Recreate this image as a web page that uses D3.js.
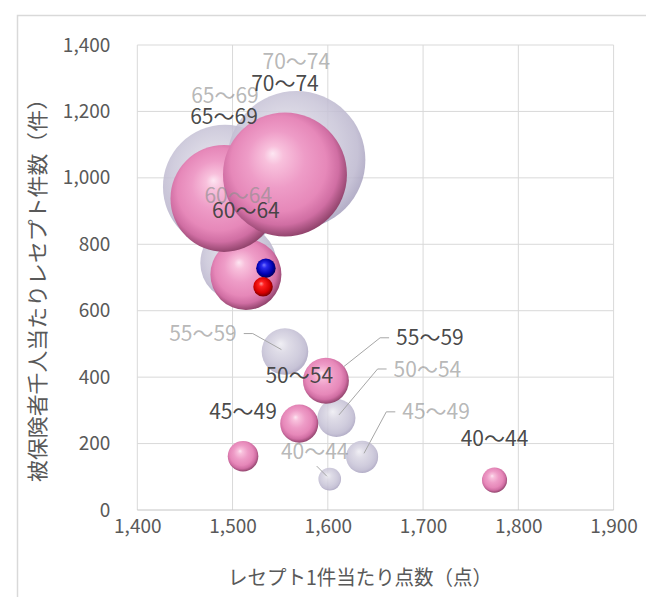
<!DOCTYPE html>
<html><head><meta charset="utf-8">
<script src="https://cdn.jsdelivr.net/npm/d3@7"></script>
<style>html,body{margin:0;padding:0;background:#fff;} svg{display:block;}</style>
</head><body><svg id="c" width="646" height="597"></svg>
<script>
// ---- data ----
const ageGroups  = ["40～44","45～49","50～54","55～59","60～64","65～69","70～74"];
// series A (lavender, translucent)
const grayPoints = [1602, 1636, 1609, 1555, 1506, 1492, 1567];
const grayCounts = [93, 160, 277, 477, 744, 973, 1054];
const graySizes  = [2.7, 5.4, 7.6, 11.4, 30.3, 80.7, 100];
// series B (pink)
const pinkPoints = [1775, 1511, 1570, 1598, 1514, 1491, 1555];
const pinkCounts = [90, 162, 260, 389, 709, 938, 1010];
const pinkSizes  = [3.3, 4.9, 7.6, 11.1, 26.5, 60.1, 80.7];
// averages (blue, red)
const avgNames  = ["blue", "red"];
const avgPoints = [1535, 1532];
const avgCounts = [728, 672];
const avgSizes  = [1.8, 1.8];
const xTicks = [1400, 1500, 1600, 1700, 1800, 1900];
const yTicks = [0, 200, 400, 600, 800, 1000, 1200, 1400];
const xTitle = "レセプト1件当たり点数（点）";
const yTitle = "被保険者千人当たりレセプト件数（件）";

// ---- label placement (pixel offsets for moved labels) ----
const grayLabelMoves = {0: [-15, -28], 1: [74, -45], 2: [91, -49], 3: [-82, -18]};
const pinkLabelMoves = {3: [104, -43]};

const svg = d3.select("#c");
const FONT = "'Noto Sans CJK JP','Noto Sans',sans-serif";
const x = d3.scaleLinear().domain([1400, 1900]).range([137.3, 613.6]);
const y = d3.scaleLinear().domain([0, 1400]).range([510, 45]);
const rScale = d3.scaleSqrt().domain([0, 100]).range([0, 69]);

// gradients
const defs = svg.append("defs");
function grad(id, stops) {
  const g = defs.append("radialGradient").attr("id", id)
    .attr("cx", "47%").attr("cy", "45%").attr("r", "55%")
    .attr("fx", "40%").attr("fy", "33%");
  stops.forEach(s => g.append("stop").attr("offset", s[0]).attr("stop-color", s[1]));
}
grad("gPink", [["0%", "#fde6f2"], ["14%", "#f8c0dc"], ["42%", "#ee9cc7"], ["70%", "#e688b9"], ["86%", "#d06ea3"], ["100%", "#93456e"]]);
grad("gGray", [["0%", "#eeedf3"], ["30%", "#d9d6e3"], ["68%", "#c9c5d8"], ["88%", "#bdb8cf"], ["100%", "#a8a2bf"]]);
grad("gBlue", [["0%", "#7a7aff"], ["25%", "#2a2aee"], ["72%", "#0000b0"], ["100%", "#000058"]]);
grad("gRed", [["0%", "#ff9a9a"], ["25%", "#ff2020"], ["72%", "#d80000"], ["100%", "#7a0000"]]);

// frame
svg.append("rect").attr("x", 17.5).attr("y", 15.5).attr("width", 700).attr("height", 700)
  .attr("fill", "none").attr("stroke", "#d9d9d9").attr("stroke-width", 1.5);

// grid
const grid = svg.append("g");
grid.selectAll("line.h").data(yTicks.filter(t => t > 0)).enter().append("line")
  .attr("x1", x(1400)).attr("x2", x(1900)).attr("y1", d => y(d)).attr("y2", d => y(d))
  .attr("stroke", "#d9d9d9").attr("stroke-width", 1);
grid.selectAll("line.v").data(xTicks).enter().append("line")
  .attr("x1", d => x(d)).attr("x2", d => x(d)).attr("y1", y(1400)).attr("y2", y(0))
  .attr("stroke", "#d9d9d9").attr("stroke-width", 1);
svg.append("line").attr("x1", x(1400)).attr("x2", x(1900)).attr("y1", y(0)).attr("y2", y(0))
  .attr("stroke", "#c4c4c4").attr("stroke-width", 1);

// axes tick labels via d3 axes
const fmt = d3.format(",");
const yAxis = svg.append("g").attr("transform", `translate(${x(1400)},0)`)
  .call(d3.axisLeft(y).tickValues(yTicks).tickFormat(fmt).tickSize(0).tickPadding(27));
const xAxis = svg.append("g").attr("transform", `translate(0,${y(0)})`)
  .call(d3.axisBottom(x).tickValues(xTicks).tickFormat(fmt).tickSize(0).tickPadding(6));
[yAxis, xAxis].forEach(a => {
  a.select(".domain").remove();
  a.selectAll("text").attr("font-family", FONT).attr("font-size", 19).attr("fill", "#595959");
});
xAxis.selectAll("text").attr("dy", "0.9em");

// titles
svg.append("text").attr("x", 360).attr("y", 585).attr("text-anchor", "middle")
  .attr("font-family", FONT).attr("font-size", 20).attr("fill", "#595959")
  .attr("textLength", 264).attr("lengthAdjust", "spacingAndGlyphs").text(xTitle);
svg.append("text").attr("transform", "translate(45,285) rotate(-90)").attr("text-anchor", "middle")
  .attr("font-family", FONT).attr("font-size", 21).attr("fill", "#595959")
  .attr("textLength", 394).attr("lengthAdjust", "spacingAndGlyphs").text(yTitle);

// data
const gray = ageGroups.map((g, i) => ({g, i, px: grayPoints[i], cnt: grayCounts[i], s: graySizes[i]}));
const pink = ageGroups.map((g, i) => ({g, i, px: pinkPoints[i], cnt: pinkCounts[i], s: pinkSizes[i]}));
const avgs = avgNames.map((n, i) => ({n, px: avgPoints[i], cnt: avgCounts[i], s: avgSizes[i]}));

svg.append("g").selectAll("circle").data(gray).enter().append("circle")
  .attr("cx", d => x(d.px)).attr("cy", d => y(d.cnt)).attr("r", d => rScale(d.s))
  .attr("fill", "url(#gGray)").attr("fill-opacity", 0.86);
svg.append("g").selectAll("circle").data(pink).enter().append("circle")
  .attr("cx", d => x(d.px)).attr("cy", d => y(d.cnt)).attr("r", d => rScale(d.s))
  .attr("fill", "url(#gPink)");
svg.append("g").selectAll("circle").data(avgs).enter().append("circle")
  .attr("cx", d => x(d.px)).attr("cy", d => y(d.cnt)).attr("r", d => rScale(d.s) + 0.5)
  .attr("fill", d => d.n === "blue" ? "url(#gBlue)" : "url(#gRed)");

// labels
const leaderG = svg.append("g");
const labelG = svg.append("g");
function drawLabels(data, moves, color, opacity, toEdge) {
  data.forEach(d => {
    const cx = x(d.px), cy = y(d.cnt), r = rScale(d.s);
    let lx = cx, ly = cy - r - 29;
    const mv = moves[d.i];
    if (mv) { lx = cx + mv[0]; ly = cy + mv[1]; }
    const t = labelG.append("text").attr("x", lx).attr("y", ly).attr("dy", "0.36em")
      .attr("text-anchor", "middle").attr("font-family", FONT).attr("font-size", 21)
      .attr("fill", color).attr("fill-opacity", opacity).text(d.g);
    if (mv) {
      const w = t.node().getComputedTextLength();
      let pts;
      if (Math.abs(mv[0]) < 30) {
        pts = [[lx + 2, ly + 15]];
      } else if (mv[0] > 0) {
        const sx = lx - w / 2 - 7;
        pts = [[sx, ly], [sx - 9, ly]];
      } else {
        const sx = lx + w / 2 + 7;
        pts = [[sx, ly], [sx + 9, ly]];
      }
      const last = pts[pts.length - 1];
      const dx = last[0] - cx, dy = last[1] - cy, L = Math.hypot(dx, dy);
      const k = toEdge ? r : 4;
      pts.push([cx + dx / L * k, cy + dy / L * k]);
      leaderG.append("path").attr("d", d3.line()(pts)).attr("fill", "none")
        .attr("stroke", "#a6a6a6").attr("stroke-width", 1);
    }
  });
}
drawLabels(gray, grayLabelMoves, "#8f8f8f", 0.65, false);
drawLabels(pink, pinkLabelMoves, "#404040", 0.95, true);
</script></body></html>
